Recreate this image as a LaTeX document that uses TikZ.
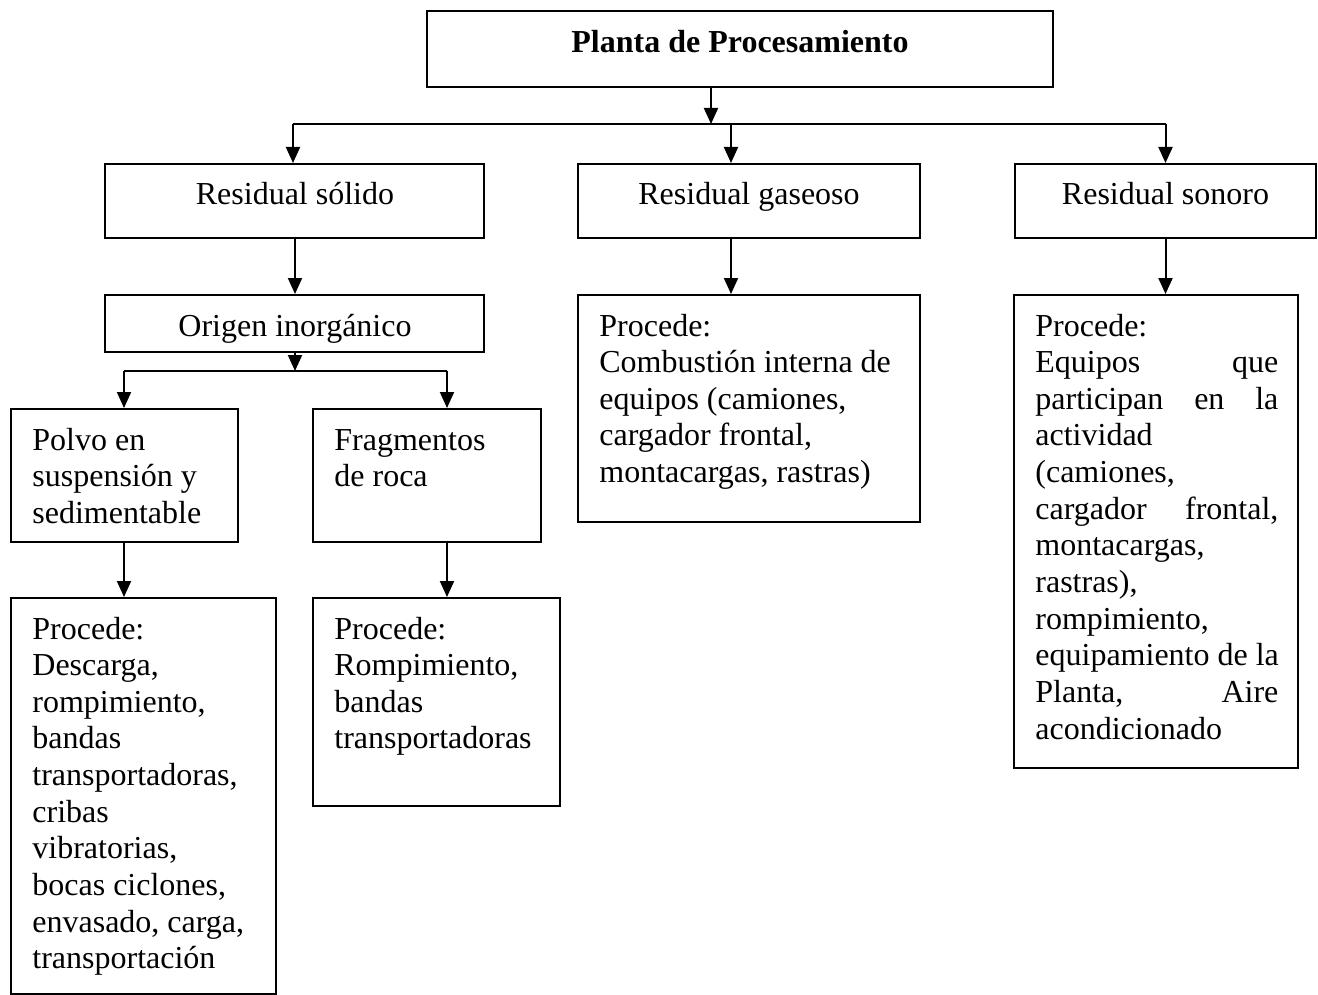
\documentclass[tikz,border=0pt]{standalone}
\usepackage{fontspec}
\setmainfont{Liberation Serif}
\usetikzlibrary{arrows.meta,fit}
\begin{document}
\begin{tikzpicture}[x=0.5pt,y=-0.5pt,
  box/.style={draw, line width=1pt, inner sep=0pt},
  txt/.style={anchor=base west, inner sep=0pt, font=\fontsize{16}{18.33}\selectfont},
  ctxt/.style={anchor=base, inner sep=0pt, font=\fontsize{16}{18.33}\selectfont},
  link/.style={line width=1pt},
  arr/.style={line width=1pt, -{Triangle[length=8pt,width=7pt]}}]
\useasboundingbox (0,0) rectangle (1318,995);

% boxes
\node[box, fit={(427,11) (1053,87)}] (planta) {};
\node[box, fit={(105,164) (484,238)}] (solido) {};
\node[box, fit={(578,164) (920,238)}] (gaseoso) {};
\node[box, fit={(1015,164) (1316,238)}] (sonoro) {};
\node[box, fit={(105,295) (484,352)}] (origen) {};
\node[box, fit={(11,409) (238,542)}] (polvo) {};
\node[box, fit={(313,409) (541,542)}] (frag) {};
\node[box, fit={(11,598) (276,993.5)}] (procpolvo) {};
\node[box, fit={(313,598) (560,806)}] (procfrag) {};
\node[box, fit={(578,295) (920,522)}] (procgas) {};
\node[box, fit={(1014,295) (1298,768)}] (procson) {};

% texts
\node[ctxt, font=\fontsize{16}{18.33}\selectfont\bfseries] (planta-t) at (740,53) {Planta de Procesamiento};
\node[ctxt] (solido-t) at (295,205) {Residual sólido};
\node[ctxt] (gaseoso-t) at (749,205) {Residual gaseoso};
\node[ctxt] (sonoro-t) at (1165.5,205) {Residual sonoro};
\node[ctxt] (origen-t) at (295,336) {Origen inorgánico};
\node[txt] (polvo-t) at (32,450) {\vtop{\hbox{Polvo en}\hbox{suspensión y}\hbox{sedimentable}}};
\node[txt] (frag-t) at (334,450) {\vtop{\hbox{Fragmentos}\hbox{de roca}}};
\node[txt] (procpolvo-t) at (32,639) {\vtop{\hbox{Procede:}\hbox{Descarga,}\hbox{rompimiento,}\hbox{bandas}\hbox{transportadoras,}\hbox{cribas}\hbox{vibratorias,}\hbox{bocas ciclones,}\hbox{envasado, carga,}\hbox{transportación}}};
\node[txt] (procfrag-t) at (334,639) {\vtop{\hbox{Procede:}\hbox{Rompimiento,}\hbox{bandas}\hbox{transportadoras}}};
\node[txt] (procgas-t) at (599,336) {\vtop{\hbox{Procede:}\hbox{Combustión interna de}\hbox{equipos (camiones,}\hbox{cargador frontal,}\hbox{montacargas, rastras)}}};
\node[txt] (procson-t) at (1035,336) {\vtop{\hbox{Procede:}%
  \hbox to 121.5pt{Equipos\hfill que}%
  \hbox to 121.5pt{participan\hfill en\hfill la}%
  \hbox{actividad}\hbox{(camiones,}%
  \hbox to 121.5pt{cargador\hfill frontal,}%
  \hbox{montacargas,}\hbox{rastras),}\hbox{rompimiento,}%
  \hbox{equipamiento de la}%
  \hbox to 121.5pt{Planta,\hfill Aire}%
  \hbox{acondicionado}}};

% junction points
\coordinate (j1) at (711,124);
\coordinate (b1l) at (293,124);
\coordinate (b1m) at (731,124);
\coordinate (b1r) at (1165.5,124);
\coordinate (j2) at (295,371);
\coordinate (b2l) at (124,371);
\coordinate (b2r) at (447,371);

% connectors
\draw[arr] (planta.south -| j1) -- (j1);
\draw[link] (b1l) -- (b1r);
\draw[arr] (b1l) -- (b1l |- solido.north);
\draw[arr] (b1m) -- (b1m |- gaseoso.north);
\draw[arr] (b1r) -- (b1r |- sonoro.north);
\draw[arr] (solido.south -| j2) -- (j2 |- origen.north);
\draw[arr] (origen.south -| j2) -- (j2);
\draw[link] (b2l) -- (b2r);
\draw[arr] (b2l) -- (b2l |- polvo.north);
\draw[arr] (b2r) -- (b2r |- frag.north);
\draw[arr] (polvo.south -| b2l) -- (b2l |- procpolvo.north);
\draw[arr] (frag.south -| b2r) -- (b2r |- procfrag.north);
\draw[arr] (gaseoso.south -| b1m) -- (b1m |- procgas.north);
\draw[arr] (sonoro.south -| b1r) -- (b1r |- procson.north);
\end{tikzpicture}
\end{document}
